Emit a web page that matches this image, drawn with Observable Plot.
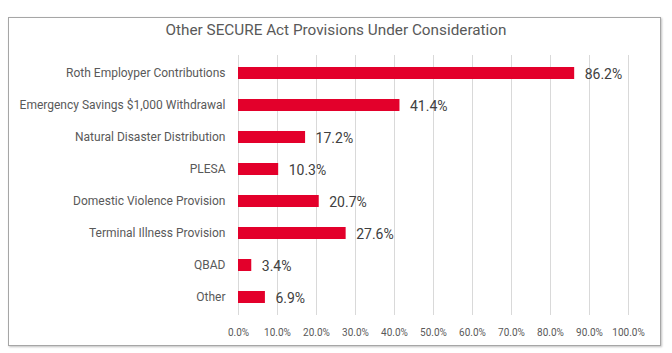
<!DOCTYPE html>
<html>
<head>
<meta charset="utf-8">
<script src="https://cdn.jsdelivr.net/npm/d3@7"></script>
<script src="https://cdn.jsdelivr.net/npm/@observablehq/plot@0.6"></script>
<style>
  html, body { margin: 0; padding: 0; background: #fff; }
  body { width: 672px; height: 353px; position: relative; overflow: hidden; font-family: Roboto, "Open Sans", sans-serif; }
  #frame { position: absolute; left: 8px; top: 17px; width: 653px; height: 329px; border: 1px solid #a6a6a6; box-shadow: 1px 1px 2px rgba(0,0,0,0.25); box-sizing: border-box; }
  #title { position: absolute; left: 0; width: 672px; top: 21px; text-align: center; font-size: 15.3px; color: #595959; }
  #chart { position: absolute; left: 0; top: 0; }
</style>
</head>
<body>
<div id="frame"></div>
<div id="title">Other SECURE Act Provisions Under Consideration</div>
<div id="chart"></div>
<script>
const categories = [
  "Roth Employper Contributions",
  "Emergency Savings $1,000 Withdrawal",
  "Natural Disaster Distribution",
  "PLESA",
  "Domestic Violence Provision",
  "Terminal Illness Provision",
  "QBAD",
  "Other"
];
const values = [86.2, 41.4, 17.2, 10.3, 20.7, 27.6, 3.4, 6.9];
const xTicks = [0, 10, 20, 30, 40, 50, 60, 70, 80, 90, 100];

const data = categories.map((c, i) => ({category: c, value: values[i]}));

const chart = Plot.plot({
  width: 672,
  height: 353,
  marginTop: 55,
  marginBottom: 38,
  marginLeft: 238,
  marginRight: 44,
  style: {fontFamily: "Roboto, 'Open Sans', sans-serif", color: "#595959", background: "transparent", overflow: "visible"},
  x: {domain: [0, 100], ticks: xTicks, tickFormat: d => d.toFixed(1) + "%", tickSize: 0, tickPadding: 12, label: null},
  y: {domain: categories, paddingInner: 0.64, paddingOuter: 0.32, tickSize: 0, tickPadding: 13, label: null},
  marks: [
    Plot.gridX(xTicks, {stroke: "#d9d9d9", strokeOpacity: 1, strokeWidth: 1}),
    Plot.axisX({ticks: xTicks, tickFormat: d => d.toFixed(1) + "%", tickSize: 0, tickPadding: 13, fontSize: 10, fill: "#595959", label: null}),
    Plot.axisY({tickSize: 0, tickPadding: 13, fontSize: 12, fill: "#595959", label: null}),
    Plot.barX(data, {x: "value", y: "category", fill: "#e3002b"}),
    Plot.text(data, {x: "value", y: "category", text: d => d.value.toFixed(1) + "%", textAnchor: "start", dx: 10, dy: 1, fontSize: 14, fill: "#404040"})
  ]
});
document.getElementById("chart").appendChild(chart);
</script>
</body>
</html>
